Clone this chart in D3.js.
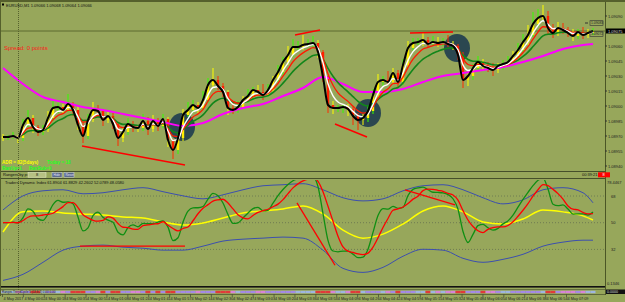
<!DOCTYPE html>
<html><head><meta charset="utf-8">
<script src="https://cdn.jsdelivr.net/npm/d3@7"></script>
<style>
body{margin:0;background:#97a75b;overflow:hidden}
svg{display:block}
text{font-family:"Liberation Sans",Arial,sans-serif}
</style>
</head><body>
<svg id="c" width="625" height="302"></svg>
<script>
// ---------- DATA ----------
const symbolTitle = "EURUSD,M1  1.09066 1.09068 1.09064 1.09066";
const closes = [1.08969,1.08969,1.08970,1.08968,1.08981,1.08988,1.08979,1.08974,1.08976,1.08988,
 1.08998,1.08999,1.08996,1.09002,1.08996,1.08981,1.08970,1.08986,1.08996,1.08995,
 1.08986,1.08990,1.08982,1.08968,1.08974,1.08982,1.08979,1.08978,1.08985,1.08977,
 1.08985,1.08980,1.08987,1.08966,1.08956,1.08968,1.08991,1.08996,1.09001,1.08998,
 1.09006,1.09021,1.09026,1.09020,1.09014,1.08998,1.08996,1.08999,1.09006,1.09010,
 1.09016,1.09014,1.09011,1.09016,1.09026,1.09034,1.09044,1.09051,1.09059,1.09059,
 1.09061,1.09062,1.09063,1.09054,1.09029,1.09001,1.08998,1.08998,1.08999,1.08997,
 1.08990,1.08986,1.08988,1.08995,1.09011,1.09024,1.09026,1.09024,1.09033,1.09024,
 1.09041,1.09058,1.09063,1.09064,1.09066,1.09062,1.09064,1.09063,1.09064,1.09062,
 1.09060,1.09051,1.09026,1.09030,1.09038,1.09044,1.09040,1.09038,1.09036,1.09040,
 1.09042,1.09044,1.09050,1.09056,1.09064,1.09071,1.09082,1.09088,1.09090,1.09078,
 1.09073,1.09078,1.09076,1.09073,1.09070,1.09074,1.09071,1.09073,1.09075];
// upper / lower wick sizes in points (0.00001)
const wickUp = [3,2,4,1,6,8,3,2,5,7,9,4,3,10,2,4,3,6,8,5,2,4,3,1,5,6,3,2,7,4,
 6,3,5,2,1,4,6,8,5,3,9,7,12,4,3,2,5,6,4,7,3,5,8,6,4,7,5,9,8,6,
 10,5,7,3,2,1,4,3,2,3,2,3,4,5,6,8,4,9,5,3,6,7,5,4,8,3,6,5,4,7,
 3,2,3,5,4,6,3,4,5,3,4,6,5,7,8,10,12,9,11,5,4,6,5,3,4,3,5,4,3];
const wickDn = [4,3,2,5,3,2,6,4,3,2,3,5,4,2,6,5,7,3,2,4,6,3,5,8,4,3,5,4,3,6,
 3,5,2,7,9,4,3,2,3,5,2,3,2,4,5,7,4,3,2,3,4,3,5,2,3,2,4,3,2,4,
 3,2,3,6,5,8,6,4,5,7,9,10,5,4,3,2,4,3,2,5,3,2,3,2,4,3,2,4,3,3,
 4,5,8,6,4,3,5,4,6,3,4,3,2,3,2,3,2,3,2,6,5,3,4,4,5,3,4,3,2];
// bar indices at which slow lines were sampled
const sampleIdx = [0,4,8,12,16,20,24,28,32,36,40,44,48,52,56,60,64,68,72,76,80,84,88,92,96,100,104,108,112,116,118];
// slow (magenta) moving average
const magentaVals = [1.09038,1.09022,1.09009,1.09004,1.08999,1.08996,1.08992,1.08988,1.08984,1.08980,
 1.08983,1.08992,1.08998,1.09002,1.09010,1.09018,1.09029,1.09022,1.09014,1.09014,
 1.09017,1.09024,1.09030,1.09033,1.09036,1.09039,1.09044,1.09050,1.09057,1.09061,1.09062];
const priceTicks = [1.09090,1.09060,1.09045,1.09030,1.09015,1.09000,1.08985,1.08970,1.08955,1.08940];
const bidPrice = 1.09075;
const markerPrices = [1.09083,1.09072];
// trend lines on price chart: [bar index, price, bar index, price]
const priceTrend = [[15.8,1.08960,36.4,1.08941],[58.4,1.09071,63.4,1.09076],[66.4,1.08982,72.8,1.08969],[81.4,1.09073,90,1.09074]];
// highlighted zones [bar index, price]
const zones = [[35.8,1.08979],[73,1.08993],[90.8,1.09058]];
// TDI (market base line and volatility bands, sampled at sampleIdx)
const tdiBase = [43.7,57.3,57.9,56.6,55.9,55.2,53.9,53.2,50.5,48.4,49.8,53.2,56.6,57.9,59.3,61.3,55.9,45.0,39.6,42.3,
 49.1,57.9,61.3,57.3,50.5,49.1,52.5,58.6,57.3,54.6,51.8];
const tdiUpper = [58.6,68.1,71.5,72.2,69.5,70.2,72.2,73.6,70.9,68.1,66.1,68.8,72.2,74.9,75.6,76.3,72.2,66.8,64.7,66.1,
 71.5,74.9,75.6,72.2,66.8,62.7,65.4,72.2,73.6,70.2,63.4];
const tdiLower = [11.1,15.2,23.3,31.5,34.2,34.9,33.5,32.8,31.5,31.5,34.2,37.6,38.9,39.6,40.3,39.6,31.5,19.2,16.5,19.9,
 27.4,32.1,31.5,26.0,23.3,25.3,28.7,34.2,36.9,38.2,38.2];
const tdiLevels = [68,50,32];
const tdiTopLabel = "78.4467";
const tdiTitle = "Traders Dynamic Index 61.8904 61.8829 42.2602 52.0789 48.0580";
const tdiTrend = [[15.4,34.2,36.4,34.2],[58.8,63.4,66.4,21.3],[80.4,72.2,90.4,62.0]];
const timeLabels = ["4 May 2017","4 May 00:02","4 May 00:18","4 May 00:35","4 May 00:51","4 May 01:08","4 May 01:24",
 "4 May 01:41","4 May 01:57","4 May 02:14","4 May 02:30","4 May 02:47","4 May 03:03","4 May 03:20","4 May 03:36",
 "4 May 03:53","4 May 04:09","4 May 04:26","4 May 04:42","4 May 04:59","4 May 05:15","4 May 05:32","4 May 05:48",
 "4 May 06:05","4 May 06:21","4 May 06:38","4 May 06:54","4 May 07:09"];

// ---------- HELPERS ----------
function ema(a,n){const k=2/(n+1);const o=[a[0]];for(let i=1;i<a.length;i++)o.push(a[i]*k+o[i-1]*(1-k));return o;}
function sma(a,n){return a.map((v,i)=>d3.mean(a.slice(Math.max(0,i-n+1),i+1)));}
// Wilder RSI, seeded with a neutral average move so it starts at 50
function rsi(a,n){const o=[50];let ag=5e-5,al=5e-5;for(let i=1;i<a.length;i++){const d=a[i]-a[i-1];
 ag=(ag*(n-1)+Math.max(d,0))/n;al=(al*(n-1)+Math.max(-d,0))/n;o.push(100-100/(1+ag/al));}return o;}

// ---------- DRAW ----------
const W=625,H=302, axisX=605;
const svg=d3.select('#c');
svg.append('rect').attr('width',W).attr('height',H).attr('fill','#97a75b');
svg.append('rect').attr('x',0).attr('y',0).attr('width',W).attr('height',2).attr('fill','#55602c');
const defs=svg.append('defs');
defs.append('clipPath').attr('id','cm').append('rect').attr('x',0).attr('y',3).attr('width',axisX).attr('height',168);
defs.append('clipPath').attr('id','ci').append('rect').attr('x',0).attr('y',180).attr('width',axisX).attr('height',106);

const x=d3.scaleLinear().domain([0,closes.length-1]).range([3,593]);
const y=d3.scaleLinear().domain([1.08940,1.09090]).range([166,16]);
const yi=d3.scaleLinear().domain([50,68]).range([222.7,196]);

const main=svg.append('g').attr('clip-path','url(#cm)');
main.append('line').attr('x1',0).attr('x2',axisX).attr('y1',y(bidPrice)).attr('y2',y(bidPrice)).attr('stroke','#5d6b30').attr('stroke-width',1);
main.selectAll('ellipse').data(zones).join('ellipse')
 .attr('cx',d=>x(d[0])).attr('cy',d=>y(d[1])).attr('rx',13).attr('ry',14).attr('fill','#2b4750');
const bars=closes.map((c,i)=>{const o=i>0?closes[i-1]:c;return {i,o,c,h:Math.max(o,c)+wickUp[i]*1e-5,l:Math.min(o,c)-wickDn[i]*1e-5};});
main.selectAll('line.w').data(bars).join('line').attr('class','w')
 .attr('x1',d=>x(d.i)).attr('x2',d=>x(d.i)).attr('y1',d=>y(d.h)).attr('y2',d=>y(d.l))
 .attr('stroke',(d,i)=>i%3===0?'#ffff00':(d.c>=d.o?'#33ff00':'#ff2a00')).attr('stroke-width',1);
main.selectAll('rect.b').data(bars).join('rect').attr('class','b')
 .attr('x',d=>x(d.i)-1.2).attr('width',2.4)
 .attr('y',d=>y(Math.max(d.o,d.c))).attr('height',d=>Math.max(1,y(Math.min(d.o,d.c))-y(Math.max(d.o,d.c))))
 .attr('fill',d=>d.c>=d.o?'#ffee00':'#ff2000');
main.append('path').datum(sampleIdx.map((k,j)=>[k,magentaVals[j]]))
 .attr('d',d3.line().x(d=>x(d[0])).y(d=>y(d[1])).curve(d3.curveMonotoneX))
 .attr('fill','none').attr('stroke','#ff00ff').attr('stroke-width',2);
const lineP=d3.line().x((d,i)=>x(i)).y(d=>y(d)).curve(d3.curveMonotoneX);
[[ema(closes,9),'#12861a',1.6],[ema(closes,5),'#ff1a00',1.3],[ema(closes,3),'#ffffff',1.4],[closes,'#000000',2]].forEach(s=>{
 main.append('path').datum(s[0]).attr('d',lineP).attr('fill','none').attr('stroke',s[1]).attr('stroke-width',s[2]);
});
main.selectAll('line.t').data(priceTrend).join('line').attr('class','t')
 .attr('x1',d=>x(d[0])).attr('y1',d=>y(d[1])).attr('x2',d=>x(d[2])).attr('y2',d=>y(d[3]))
 .attr('stroke','#ff0000').attr('stroke-width',1.5);

svg.append('line').attr('x1',18.5).attr('x2',18.5).attr('y1',3).attr('y2',294).attr('stroke','#56622e').attr('stroke-dasharray','1,1');

svg.append('rect').attr('x',2).attr('y',3.5).attr('width',2).attr('height',2).attr('fill','#000');
svg.append('text').attr('x',6).attr('y',6.5).attr('font-size',4).attr('fill','#111').text(symbolTitle);
svg.append('text').attr('x',4).attr('y',50).attr('font-size',6).attr('fill','#ff1a1a').text('Spread: 0 points');
svg.append('text').attr('x',2).attr('y',163.5).attr('font-size',4.6).attr('font-weight','bold').attr('fill','#ffff00').text('ADR = 82(5days)');
svg.append('text').attr('x',47).attr('y',163.5).attr('font-size',4.6).attr('font-weight','bold').attr('fill','#22ff22').text('Today = 18');
svg.append('text').attr('x',2).attr('y',170).attr('font-size',4.6).attr('font-weight','bold').attr('fill','#22ff22').text('RanUp=1');
svg.append('text').attr('x',29).attr('y',170).attr('font-size',4.6).attr('font-weight','bold').attr('fill','#22ff22').text('RanSub=0');

svg.append('line').attr('x1',axisX+0.5).attr('x2',axisX+0.5).attr('y1',2).attr('y2',295).attr('stroke','#4b5626');
svg.selectAll('text.pt').data(priceTicks).join('text').attr('class','pt')
 .attr('x',608).attr('y',d=>y(d)+1.5).attr('font-size',4).attr('fill','#222').text(d=>d.toFixed(5));
svg.selectAll('line.pt').data(priceTicks).join('line').attr('class','pt')
 .attr('x1',axisX).attr('x2',axisX+2).attr('y1',d=>y(d)).attr('y2',d=>y(d)).attr('stroke','#333');
svg.append('rect').attr('x',axisX+1).attr('y',y(bidPrice)-2.5).attr('width',19).attr('height',5).attr('fill','#000');
svg.append('text').attr('x',608).attr('y',y(bidPrice)+1.5).attr('font-size',4).attr('fill','#ddd').text(bidPrice.toFixed(5));
markerPrices.forEach(p=>{
 svg.append('rect').attr('x',590).attr('y',y(p)-2.3).attr('width',13).attr('height',4.6).attr('fill','none').attr('stroke','#333').attr('stroke-width',0.6);
 svg.append('text').attr('x',591).attr('y',y(p)+1.3).attr('font-size',3.4).attr('fill','#222').text(p.toFixed(5));
});
svg.append('line').attr('x1',585).attr('x2',588).attr('y1',y(markerPrices[0])).attr('y2',y(markerPrices[0])).attr('stroke','#333');

svg.append('rect').attr('x',0).attr('y',171).attr('width',axisX).attr('height',1).attr('fill','#46502a');
svg.append('rect').attr('x',0).attr('y',178).attr('width',axisX).attr('height',1).attr('fill','#46502a');
svg.append('text').attr('x',3).attr('y',176.3).attr('font-size',4).attr('fill','#111').text('Rangers by pips:');
svg.append('rect').attr('x',28).attr('y',172.6).attr('width',18).attr('height',4.6).attr('fill','#b7c184').attr('stroke','#e8ecd0').attr('stroke-width',0.5);
svg.append('text').attr('x',36).attr('y',176.3).attr('font-size',4).attr('fill','#111').text('8');
[52,64].forEach((bx,j)=>{
 svg.append('rect').attr('x',bx).attr('y',172.6).attr('width',10).attr('height',4.6).attr('fill','#58678a').attr('stroke','#c9cfe0').attr('stroke-width',0.5);
 svg.append('text').attr('x',bx+1.5).attr('y',176.2).attr('font-size',3.2).attr('fill','#e8e8ff').text(j?'Reset':'Hide');
});
svg.append('text').attr('x',582).attr('y',176.3).attr('font-size',4).attr('fill','#111').text('00:39:21');
svg.append('rect').attr('x',598).attr('y',172.3).attr('width',12).attr('height',5).attr('fill','#ff0000');
svg.append('text').attr('x',602.5).attr('y',176.3).attr('font-size',4).attr('fill','#fff').text('8');

// ---------- TDI ----------
const r=rsi(closes,10);
const green=sma(r,2), red=sma(r,5);
const ind=svg.append('g').attr('clip-path','url(#ci)');
ind.selectAll('line.lv').data(tdiLevels).join('line').attr('class','lv')
 .attr('x1',0).attr('x2',axisX).attr('y1',d=>yi(d)).attr('y2',d=>yi(d)).attr('stroke','#6f7c52').attr('stroke-dasharray','1,2');
const lineS=d3.line().x(d=>x(d[0])).y(d=>yi(d[1])).curve(d3.curveMonotoneX);
[[tdiUpper,'#3c4fae',1],[tdiLower,'#3c4fae',1],[tdiBase,'#ffff00',1.5]].forEach(s=>{
 ind.append('path').datum(sampleIdx.map((k,j)=>[k,s[0][j]])).attr('d',lineS).attr('fill','none').attr('stroke',s[1]).attr('stroke-width',s[2]);
});
const lineI=d3.line().x((d,i)=>x(i)).y(d=>yi(d)).curve(d3.curveMonotoneX);
[[green,'#0f8f12',1.3],[red,'#ff0000',1.3]].forEach(s=>{
 ind.append('path').datum(s[0]).attr('d',lineI).attr('fill','none').attr('stroke',s[1]).attr('stroke-width',s[2]);
});
ind.selectAll('line.tt').data(tdiTrend).join('line').attr('class','tt')
 .attr('x1',d=>x(d[0])).attr('y1',d=>yi(d[1])).attr('x2',d=>x(d[2])).attr('y2',d=>yi(d[3]))
 .attr('stroke','#ff0000').attr('stroke-width',1.3);
svg.append('text').attr('x',5).attr('y',184).attr('font-size',4).attr('fill','#111').text(tdiTitle);
svg.append('text').attr('x',607).attr('y',184).attr('font-size',4).attr('fill','#222').text(tdiTopLabel);
svg.selectAll('text.lv').data(tdiLevels).join('text').attr('class','lv')
 .attr('x',611).attr('y',d=>yi(d)+1.5).attr('font-size',4).attr('fill','#222').text(d=>d);

// ---------- bottom strip ----------
svg.append('rect').attr('x',0).attr('y',286).attr('width',axisX).attr('height',1.6).attr('fill','#111');
svg.append('rect').attr('x',0).attr('y',289).attr('width',axisX).attr('height',0.6).attr('fill','#46502a');
svg.selectAll('rect.st').data(bars).join('rect').attr('class','st')
 .attr('x',d=>x(d.i)-2.5).attr('width',5).attr('y',290.8).attr('height',2.4)
 .attr('fill',d=>{const df=(d.c-d.o)*1e5;return df>4?'#a58ae6':df<-4?'#e23a3a':(df>=0?'#9fb6e0':'#d884d8');});
svg.append('text').attr('x',2).attr('y',292.8).attr('font-size',3).attr('fill','#222').text('Ranges TrendCycle 5 (13,8,2) 0.00 0.00');
svg.append('rect').attr('x',0).attr('y',294).attr('width',axisX+1).attr('height',0.7).attr('fill','#46502a');
svg.append('text').attr('x',607).attr('y',285).attr('font-size',4).attr('fill','#222').text('0.1346');
svg.append('rect').attr('x',606).attr('y',289.5).attr('width',19).attr('height',4.5).attr('fill','#111');
svg.append('text').attr('x',607).attr('y',293).attr('font-size',3.6).attr('fill','#ddd').text('0.0000');

const xt=d3.scaleLinear().domain([0,timeLabels.length-1]).range([2,566]);
svg.selectAll('line.tk').data(timeLabels).join('line').attr('class','tk')
 .attr('x1',(d,i)=>xt(i)+0.5).attr('x2',(d,i)=>xt(i)+0.5).attr('y1',294.5).attr('y2',297).attr('stroke','#333').attr('stroke-width',0.6);
svg.selectAll('text.tl').data(timeLabels).join('text').attr('class','tl')
 .attr('x',(d,i)=>xt(i)+1.5).attr('y',299.5).attr('font-size',3.8).attr('fill','#222').text(d=>d);
svg.append('rect').attr('x',0).attr('y',2).attr('width',1).attr('height',294).attr('fill','#55602c');
</script>
</body></html>
